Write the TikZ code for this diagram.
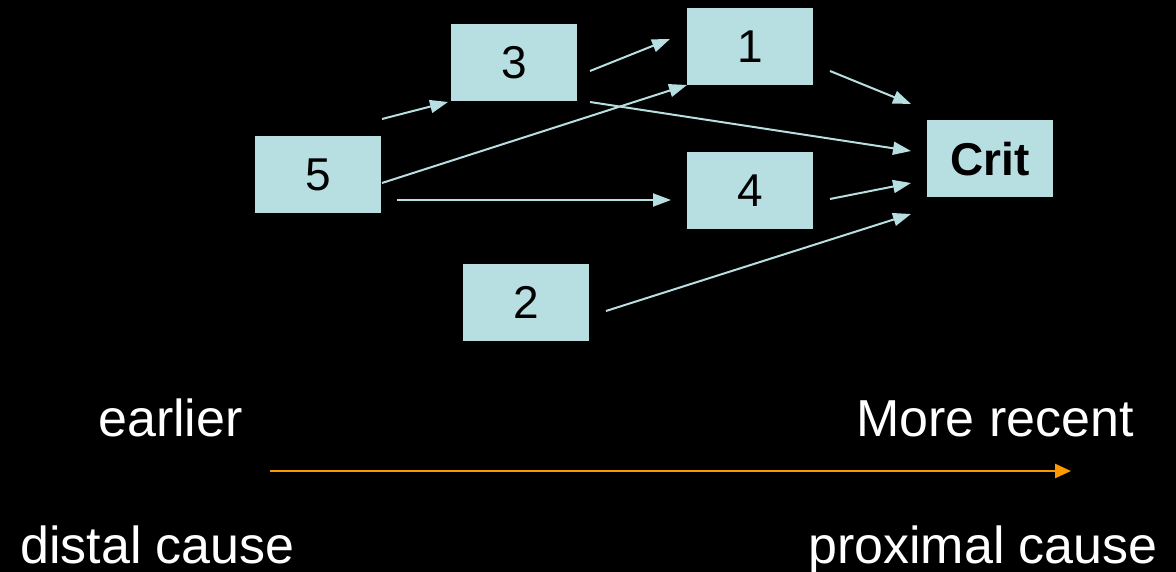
\documentclass[tikz,border=0pt]{standalone}
\usepackage{fontspec}
\setmainfont{Liberation Sans}
\usetikzlibrary{arrows.meta}
\definecolor{boxblue}{RGB}{183,223,226}
\definecolor{arrorange}{RGB}{255,153,0}
\begin{document}
\begin{tikzpicture}[x=1pt,y=-1pt,
  cbox/.style={fill=boxblue,draw=none,minimum width=126pt,minimum height=77pt,inner sep=0pt,
    font=\fontsize{46}{54}\selectfont,text=black},
  conn/.style={draw=boxblue,line width=2pt,-{Triangle[length=18pt,width=13pt]}},
  lbl/.style={text=white,font=\fontsize{52}{60}\selectfont,inner sep=0pt,anchor=base west}]
\path[fill=black,use as bounding box] (0,0) rectangle (1176,572);
\node[cbox] (n3) at (514,62.5) {3};
\node[cbox] (n1) at (750,47) {1};
\node[cbox] (n4) at (750,190.5) {4};
\node[cbox,font=\fontsize{46}{54}\selectfont\bfseries] (crit) at (990,159) {Crit};
\node[cbox] (n5) at (318,174.5) {5};
\node[cbox] (n2) at (526,302.5) {2};
% connector ends
\coordinate (a1) at (382,119); \coordinate (b1) at (448,102);
\coordinate (a2) at (590,71);  \coordinate (b2) at (670,39);
\coordinate (a3) at (382,183); \coordinate (b3) at (687,85);
\coordinate (a4) at (397,200); \coordinate (b4) at (671,200);
\coordinate (a5) at (590,102); \coordinate (b5) at (911,151);
\coordinate (a6) at (830,71);  \coordinate (b6) at (911,104);
\coordinate (a7) at (830,199); \coordinate (b7) at (911,183);
\coordinate (a8) at (606,311); \coordinate (b8) at (911,214);
\draw[conn] (a1) -- (b1);
\draw[conn] (a2) -- (b2);
\draw[conn] (a3) -- (b3);
\draw[conn] (a4) -- (b4);
\draw[conn] (a5) -- (b5);
\draw[conn] (a6) -- (b6);
\draw[conn] (a7) -- (b7);
\draw[conn] (a8) -- (b8);
% timeline
\coordinate (t0) at (270,471); \coordinate (t1) at (1071,471);
\draw[draw=arrorange,line width=2.5pt,-{Triangle[length=16pt,width=14pt]}] (t0) -- (t1);
\node[lbl] (earlier) at (98,436) {earlier};
\node[lbl,anchor=base east] (recent) at (1134,436) {More recent};
\node[lbl] (distal) at (20,563) {distal cause};
\node[lbl,anchor=base east] (prox) at (1158,563) {proximal cause};
\end{tikzpicture}
\end{document}
